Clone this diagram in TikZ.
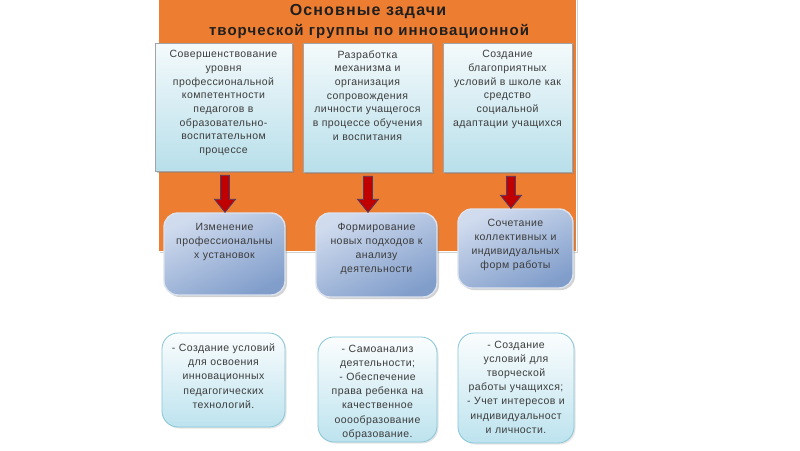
\documentclass[tikz,border=0pt]{standalone}
\usepackage{fontspec}
\setmainfont{Liberation Sans}
\newfontfamily\boxfont[LetterSpace=4]{Liberation Sans}
\newfontfamily\titlefont[LetterSpace=7]{Liberation Sans}
\usetikzlibrary{shadows,calc}
\definecolor{orng}{HTML}{ED7D31}
\definecolor{txtgray}{HTML}{3C3C3C}
\definecolor{topA}{HTML}{F4FAFC}
\definecolor{topB}{HTML}{B8DFEA}
\definecolor{topline}{HTML}{A0A4A8}
\definecolor{midA}{HTML}{D0DBEE}
\definecolor{midB}{HTML}{819ECB}
\definecolor{midline}{HTML}{DCE3EE}
\definecolor{botA}{HTML}{FBFDFE}
\definecolor{botB}{HTML}{BDE3EE}
\definecolor{botline}{HTML}{86C6D8}
\definecolor{arrred}{HTML}{C00000}
\definecolor{arrline}{HTML}{4E3C6A}
\tikzset{
  orangebg/.style={rectangle, fill=orng, draw=white, line width=1pt,
    drop shadow={shadow xshift=2pt, shadow yshift=-2pt, opacity=0.35}},
  topbox/.style={rectangle, top color=topA, bottom color=topB, draw=topline, line width=0.6pt,
    drop shadow={shadow xshift=1.5pt, shadow yshift=-1.5pt, opacity=0.45}},
  midbox/.style={rectangle, rounded corners=14pt, top color=midA, bottom color=midB, shading angle=25,
    draw=midline, line width=1.4pt,
    drop shadow={shadow xshift=2pt, shadow yshift=-2pt, opacity=0.35}},
  botbox/.style={rectangle, rounded corners=16pt, top color=botA, bottom color=botB, draw=botline, line width=0.8pt,
    drop shadow={shadow xshift=1.5pt, shadow yshift=-1.5pt, opacity=0.2}},
  boxtext/.style={anchor=north, align=center, text=txtgray, font=\boxfont\fontsize{10.5}{13.7}\selectfont, inner sep=0pt},
  midtext/.style={boxtext, font=\boxfont\fontsize{10.5}{14}\selectfont},
  bottext/.style={boxtext, font=\boxfont\fontsize{10.5}{14.2}\selectfont},
  titletext/.style={text=black!88, font=\titlefont\bfseries\fontsize{15}{18}\selectfont, inner sep=0pt},
  titlebig/.style={titletext, font=\titlefont\bfseries\fontsize{16}{19}\selectfont},
  arrowshape/.style={fill=arrred, draw=arrline, line width=0.8pt, line join=miter}
}
\newcommand\blockarrow[3]{%
  \path let \p1=(#1.south), \p2=(#2.north) in
    [arrowshape]
    ({\x1+(#3)*1pt-4.5pt},{\y1-4pt}) -- ({\x1+(#3)*1pt-4.5pt},{\y2+13pt})
    -- ({\x1+(#3)*1pt-10.5pt},{\y2+13pt}) -- ({\x1+(#3)*1pt},{\y2})
    -- ({\x1+(#3)*1pt+10.5pt},{\y2+13pt}) -- ({\x1+(#3)*1pt+4.5pt},{\y2+13pt})
    -- ({\x1+(#3)*1pt+4.5pt},{\y1-4pt}) -- cycle;}
\begin{document}
\begin{tikzpicture}[x=1pt,y=-1pt]
\useasboundingbox (0,0) rectangle (800,450);
\fill[white] (0,0) rectangle (800,450);

\node[orangebg, minimum width=418pt, minimum height=254pt] (bg) at (367,124) {};
\node[titlebig] (title1) at (368,12) {Основные задачи};
\node[titletext] (title2) at (369,31) {творческой группы по инновационной};

% top row
\node[topbox, minimum width=137pt, minimum height=128pt] (t1) at (223.5,107) {};
\node[topbox, minimum width=129pt, minimum height=129pt] (t2) at (367.5,107.5) {};
\node[topbox, minimum width=129pt, minimum height=129pt] (t3) at (507.5,107.5) {};
\node[boxtext, text width=134pt] (t1x) at ($(t1.north)+(0,7.5)$) {Совершенствование\\уровня\\профессиональной\\компетентности\\педагогов в\\образовательно-\\воспитательном\\процессе};
\node[boxtext, text width=126pt] (t2x) at ($(t2.north)+(0,7.5)$) {Разработка\\механизма и\\организация\\сопровождения\\личности учащегося\\в процессе обучения\\и воспитания};
\node[boxtext, text width=126pt] (t3x) at ($(t3.north)+(0,7.5)$) {Создание\\благоприятных\\условий в школе как\\средство\\социальной\\адаптации учащихся};

% middle row
\node[midbox, minimum width=121pt, minimum height=82pt] (m1) at (224.5,254) {};
\node[midbox, minimum width=121pt, minimum height=84pt] (m2) at (376.5,255) {};
\node[midbox, minimum width=115pt, minimum height=79pt] (m3) at (515.5,248.5) {};
\node[midtext, text width=118pt] (m1x) at ($(m1.north)+(0,11)$) {Изменение\\профессиональны\\х установок};
\node[midtext, text width=118pt] (m2x) at ($(m2.north)+(0,11)$) {Формирование\\новых подходов к\\анализу\\деятельности};
\node[midtext, text width=112pt] (m3x) at ($(m3.north)+(0,11)$) {Сочетание\\коллективных и\\индивидуальных\\форм работы};

% arrows
\blockarrow{t1}{m1}{1.5}
\blockarrow{t2}{m2}{0.5}
\blockarrow{t3}{m3}{3.5}

% bottom row
\node[botbox, minimum width=123pt, minimum height=94pt] (b1) at (223.5,380) {};
\node[botbox, minimum width=119pt, minimum height=105pt] (b2) at (377.5,389.5) {};
\node[botbox, minimum width=116pt, minimum height=110pt] (b3) at (516,388) {};
\node[bottext, text width=120pt] (b1x) at ($(b1.north)+(0,11)$) {- Создание условий\\для освоения\\инновационных\\педагогических\\технологий.};
\node[bottext, text width=116pt] (b2x) at ($(b2.north)+(0,8)$) {- Самоанализ\\деятельности;\\- Обеспечение\\права ребенка на\\качественное\\ооообразование\\образование.};
\node[bottext, text width=113pt] (b3x) at ($(b3.north)+(0,8)$) {- Создание\\условий для\\творческой\\работы учащихся;\\- Учет интересов и\\индивидуальност\\и личности.};
\end{tikzpicture}
\end{document}
